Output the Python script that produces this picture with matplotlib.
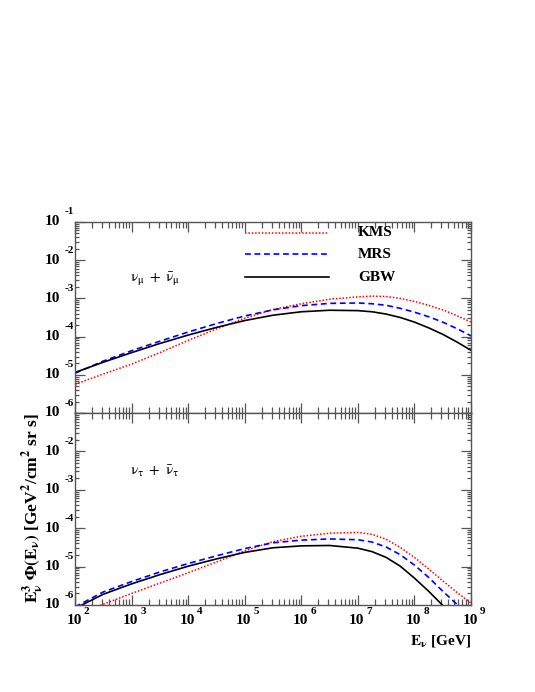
import numpy as np
import matplotlib
matplotlib.use("Agg")
import matplotlib.pyplot as plt
import matplotlib.transforms as mtransforms
from matplotlib.ticker import LogLocator, NullFormatter
from matplotlib.lines import Line2D

plt.rcParams['font.family'] = ['Liberation Serif', 'DejaVu Serif']
plt.rcParams['mathtext.fontset'] = 'stix'

# log10(E / GeV) grid where values were read
log_e = [2.0, 2.5, 3.0, 3.5, 4.0, 4.5, 5.0, 5.5, 6.0, 6.5, 7.0, 7.25, 7.5, 7.75,
         8.0, 8.25, 8.5, 8.75, 9.0]

# nu_mu + nu_mu-bar : log10(E^3 Phi)
mu_kms = [-5.25, -4.98, -4.72, -4.42, -4.10, -3.80, -3.52, -3.29, -3.14, -3.02,
          -2.96, -2.94, -2.95, -3.00, -3.08, -3.18, -3.30, -3.45, -3.62]
mu_mrs = [-4.96, -4.64, -4.37, -4.12, -3.88, -3.66, -3.46, -3.30, -3.19, -3.13,
          -3.12, -3.14, -3.18, -3.26, -3.36, -3.48, -3.62, -3.79, -3.98]
mu_gbw = [-4.94, -4.67, -4.42, -4.18, -3.96, -3.76, -3.58, -3.44, -3.35, -3.31,
          -3.32, -3.35, -3.41, -3.50, -3.62, -3.77, -3.94, -4.14, -4.36]

# nu_tau + nu_tau-bar
tau_kms = [-6.26, -5.98, -5.70, -5.43, -5.16, -4.88, -4.59, -4.35, -4.21, -4.13,
           -4.11, -4.16, -4.29, -4.50, -4.76, -5.06, -5.37, -5.67, -5.95]
tau_mrs = [-6.05, -5.66, -5.39, -5.14, -4.92, -4.72, -4.53, -4.38, -4.31, -4.28,
           -4.30, -4.36, -4.49, -4.69, -4.96, -5.28, -5.64, -5.98, -6.38]
tau_gbw = [-6.09, -5.72, -5.45, -5.21, -4.99, -4.80, -4.63, -4.51, -4.46, -4.45,
           -4.52, -4.61, -4.76, -4.99, -5.30, -5.64, -6.01, -6.41, -6.83]

models = ["KMS", "MRS", "GBW"]
colors = ["red", "blue", "black"]
styles = [(0, (1, 1.2)), (0, (3.5, 2.2)), "-"]
widths = [1.1, 1.2, 1.2]

x_decades = [2, 3, 4, 5, 6, 7, 8, 9]
y_decades_top = [-1, -2, -3, -4, -5, -6]
y_decades_bot = [-2, -3, -4, -5, -6]

frame = "#555555"

fig = plt.figure(figsize=(5.35, 6.92), dpi=100)
W, H = 535.0, 692.0
x0, x1 = 75, 471
ax_top = fig.add_axes([x0 / W, 1 - 413 / H, (x1 - x0) / W, 191 / H])
ax_bot = fig.add_axes([x0 / W, 1 - 605 / H, (x1 - x0) / W, 192 / H])

E = 10.0 ** np.array(log_e)


def style_axis(ax):
    ax.set_xscale("log")
    ax.set_yscale("log")
    ax.set_xlim(1e2, 1e9)
    ax.set_ylim(1e-6, 1e-1)
    for sp in ax.spines.values():
        sp.set_color(frame)
        sp.set_linewidth(1.0)
    ax.xaxis.set_major_locator(LogLocator(base=10, numticks=20))
    ax.xaxis.set_minor_locator(LogLocator(base=10, subs=np.arange(2, 10), numticks=100))
    ax.yaxis.set_major_locator(LogLocator(base=10, numticks=20))
    ax.yaxis.set_minor_locator(LogLocator(base=10, subs=np.arange(2, 10), numticks=100))
    for axis in (ax.xaxis, ax.yaxis):
        axis.set_major_formatter(NullFormatter())
        axis.set_minor_formatter(NullFormatter())
    ax.tick_params(which="both", direction="in", top=True, right=True,
                   color=frame, width=0.9)
    ax.tick_params(axis="x", which="major", length=7)
    ax.tick_params(axis="x", which="minor", length=4)
    ax.tick_params(axis="y", which="major", length=7)
    ax.tick_params(axis="y", which="minor", length=3)


def ylabels(ax, decades):
    tr = ax.get_yaxis_transform()
    t10 = mtransforms.offset_copy(tr, fig=fig, x=-15, y=0, units="dots")
    tex = mtransforms.offset_copy(tr, fig=fig, x=-10, y=10, units="dots")
    for d in decades:
        ax.text(0, 10.0 ** d, "10", transform=t10, ha="right", va="center",
                fontsize=11, fontweight="bold", clip_on=False)
        ax.text(0, 10.0 ** d, str(d), transform=tex, ha="left", va="center",
                fontsize=8, fontweight="bold", clip_on=False)


def xlabels(ax, decades):
    tr = ax.get_xaxis_transform()
    t10 = mtransforms.offset_copy(tr, fig=fig, x=-1, y=-16, units="dots")
    tex = mtransforms.offset_copy(tr, fig=fig, x=9, y=-7, units="dots")
    for d in decades:
        ax.text(10.0 ** d, 0, "10", transform=t10, ha="center", va="center",
                fontsize=11, fontweight="bold", clip_on=False)
        ax.text(10.0 ** d, 0, str(d), transform=tex, ha="left", va="center",
                fontsize=8, fontweight="bold", clip_on=False)


panels = [
    (ax_top, [mu_kms, mu_mrs, mu_gbw], r"$\mathrm{\nu_{\mu}\ +\ \bar{\nu}_{\mu}}$", y_decades_top),
    (ax_bot, [tau_kms, tau_mrs, tau_gbw], r"$\mathrm{\nu_{\tau}\ +\ \bar{\nu}_{\tau}}$", y_decades_bot),
]

for ax, series, lab, ydec in panels:
    style_axis(ax)
    for vals, name, c, ls, lw in zip(series, models, colors, styles, widths):
        ax.plot(E, 10.0 ** np.array(vals), color=c, linestyle=ls, linewidth=lw,
                label=name)
    ax.text(0.139, 0.70, lab, transform=ax.transAxes, fontsize=11,
            ha="left", va="center")
    ylabels(ax, ydec)

xlabels(ax_bot, x_decades)

# legend drawn by hand in the top panel
leg_y = [0.944, 0.831, 0.710]
for name, c, ls, lw, yy in zip(models, colors, styles, widths, leg_y):
    ax_top.add_line(Line2D([0.429, 0.641], [yy, yy], transform=ax_top.transAxes,
                           color=c, linestyle=ls, linewidth=lw))
    ax_top.text(0.715, yy, name, transform=ax_top.transAxes, fontsize=11,
                fontweight="bold", ha="left", va="center")

ax_bot.text(1.0, -0.19, r"$\mathbf{E_{\nu}}$ [GeV]", transform=ax_bot.transAxes,
            ha="right", va="center", fontsize=11, fontweight="bold")

ax_bot.text(-0.106, 1.0,
            r"$\mathbf{E_{\nu}^{3}\ \Phi(E_{\nu})}$ [GeV$^{\mathbf{2}}$/cm$^{\mathbf{2}}$ sr s]",
            transform=ax_bot.transAxes, rotation=90, ha="center", va="top",
            fontsize=12.5, fontweight="bold")

fig.savefig("out.png", dpi=100)
